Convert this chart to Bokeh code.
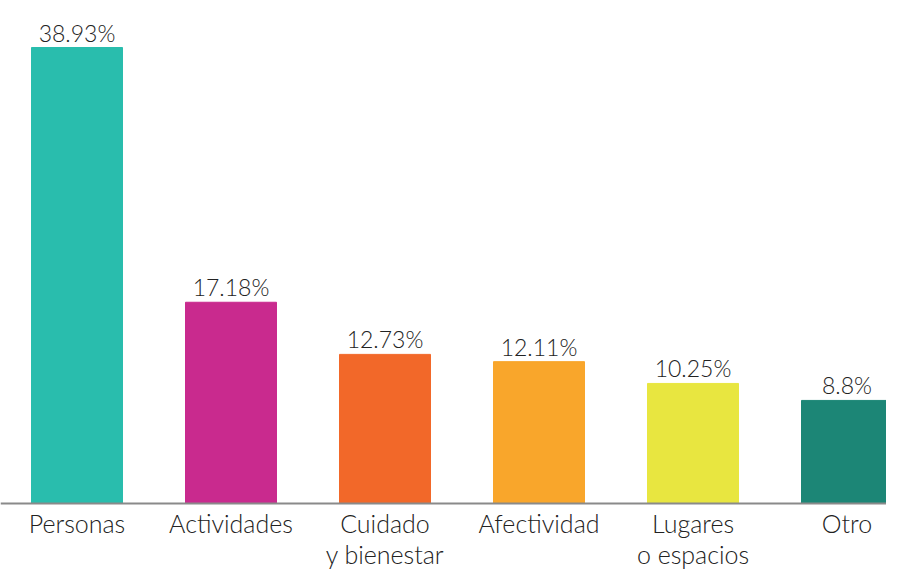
from bokeh.plotting import figure
from bokeh.models import Range1d, Span, ColumnDataSource
from bokeh.core.properties import value
from bokeh.embed import file_html
from bokeh.resources import INLINE

categories = ["Personas", "Actividades", "Cuidado\ny bienestar", "Afectividad", "Lugares\no espacios", "Otro"]
percentages = [38.93, 17.18, 12.73, 12.11, 10.25, 8.8]
value_labels = ["38.93%", "17.18%", "12.73%", "12.11%", "10.25%", "8.8%"]
colors = ["#29BDAD", "#C92A8E", "#F26829", "#F9A62B", "#E8E640", "#1C8676"]

positions = list(range(len(categories)))
src = ColumnDataSource(dict(x=positions, top=percentages, cat=categories,
                            lab=value_labels, color=colors,
                            zero=[0] * len(categories)))

W, H = 886, 572
base_px = 503          # baseline position from figure top
px_per_unit = (base_px - 47) / max(percentages)
slot = 154
x0_px = 76.5

FONT = value("Lato Light, Lato, sans-serif")

p = figure(width=W, height=H, output_backend="svg", toolbar_location=None,
           x_range=Range1d(-x0_px / slot, (W - x0_px) / slot),
           y_range=Range1d(-(H - base_px) / px_per_unit, base_px / px_per_unit),
           min_border=0, min_border_left=0, min_border_right=0,
           min_border_top=0, min_border_bottom=0)
p.outline_line_color = None
p.axis.visible = False
p.grid.visible = False
p.background_fill_color = "white"
p.border_fill_color = "white"

p.vbar(x="x", top="top", bottom=0, width=91 / slot, color="color", source=src)

p.add_layout(Span(location=0, dimension="width", line_color="#8a8a8a", line_width=2))

p.text(x="x", y="top", text="lab", source=src, text_align="center",
       text_baseline="alphabetic", y_offset=-15, text_font=FONT,
       text_font_size="23px", text_color="#222222")

p.text(x="x", y="zero", text="cat", source=src, text_align="center",
       text_baseline="top", y_offset=4, text_font=FONT,
       text_font_size="25px", text_color="#222222", text_line_height=1.05)

open("out.html", "w").write(file_html(p, INLINE))
